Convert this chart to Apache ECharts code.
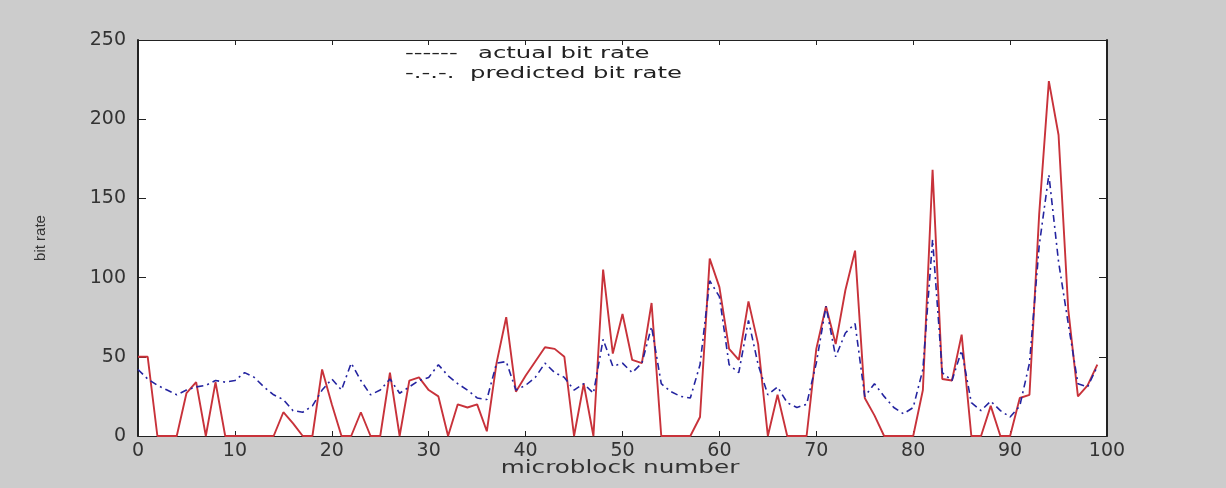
<!DOCTYPE html>
<html>
<head>
<meta charset="utf-8">
<script src="https://cdn.jsdelivr.net/npm/echarts@6/dist/echarts.min.js"></script>
<style>
  html, body { margin: 0; padding: 0; background: #cccccc; }
  #main { width: 1226px; height: 488px; }
</style>
</head>
<body>
<div id="main"></div>
<script>
// microblock index 0..99
var blocks = [];
for (var i = 0; i < 100; i++) blocks.push(i);

var actualRate = [
  50, 50, 0, 0, 0, 27, 34, 0, 34, 0,
  0, 0, 0, 0, 0, 15, 8, 0, 0, 42,
  20, 0, 0, 15, 0, 0, 40, 0, 35, 37,
  29, 25, 0, 20, 18, 20, 3, 46, 75, 28,
  38, 47, 56, 55, 50, 0, 33, 0, 105, 52,
  77, 48, 46, 84, 0, 0, 0, 0, 12, 112,
  94, 55, 48, 85, 58, 0, 26, 0, 0, 0,
  55, 82, 58, 92, 117, 24, 13, 0, 0, 0,
  0, 29, 168, 36, 35, 64, 0, 0, 19, 0,
  0, 24, 26, 140, 224, 190, 80, 25, 32, 45
];

var predictedRate = [
  42, 36, 32, 29, 26, 29, 31, 32, 35, 34,
  35, 40, 37, 31, 26, 23, 16, 15, 19, 29,
  36, 29, 46, 35, 26, 29, 36, 27, 31, 35,
  37, 45, 38, 33, 29, 24, 23, 46, 47, 29,
  32, 37, 46, 40, 37, 29, 33, 27, 61, 44,
  46, 40, 46, 69, 33, 28, 25, 24, 45, 98,
  88, 45, 40, 73, 45, 26, 31, 21, 18, 20,
  46, 82, 50, 65, 71, 25, 33, 25, 18, 14,
  18, 42, 124, 40, 35, 54, 21, 16, 22, 16,
  12, 19, 46, 120, 165, 110, 71, 33, 31, 44
];

var legendLines = ['actual bit rate', 'predicted bit rate'];
var legendMarks = ['------', '-.-.-.'];

function pairs(ys) {
  return blocks.map(function (x, k) { return [x, ys[k]]; });
}

var chart = echarts.init(document.getElementById('main'));

var axisColor = '#222';
var labelStyle = { color: '#333', fontFamily: 'DejaVu Sans', fontSize: 19 };

var option = {
  backgroundColor: '#cccccc',
  animation: false,
  grid: {
    left: 138, right: 119, top: 40, bottom: 52,
    show: true, backgroundColor: '#ffffff', borderWidth: 0
  },
  xAxis: [
    {
      type: 'value', min: 0, max: 100, interval: 10,
      axisLine: { onZero: false, lineStyle: { color: axisColor, width: 1.2 } },
      axisTick: { inside: true, length: 5, lineStyle: { color: axisColor } },
      axisLabel: Object.assign({ margin: 6 }, labelStyle),
      splitLine: { show: false }
    },
    {
      type: 'value', min: 0, max: 100, interval: 10, position: 'top',
      axisLine: { onZero: false, lineStyle: { color: axisColor, width: 1.2 } },
      axisTick: { inside: true, length: 5, lineStyle: { color: axisColor } },
      axisLabel: { show: false },
      splitLine: { show: false }
    }
  ],
  yAxis: [
    {
      type: 'value', min: 0, max: 250, interval: 50,
      name: 'bit rate', nameLocation: 'middle', nameGap: 90, nameRotate: 90,
      nameTextStyle: { color: '#333', fontFamily: 'Liberation Sans Narrow, Liberation Sans', fontSize: 15 },
      axisLine: { show: true, onZero: false, lineStyle: { color: axisColor, width: 2 } },
      axisTick: { show: true, inside: true, length: 8, lineStyle: { color: axisColor } },
      axisLabel: Object.assign({ margin: 12 }, labelStyle),
      splitLine: { show: false }
    },
    {
      type: 'value', min: 0, max: 250, interval: 50, position: 'right',
      axisLine: { show: true, onZero: false, lineStyle: { color: axisColor, width: 2 } },
      axisTick: { show: true, inside: true, length: 8, lineStyle: { color: axisColor } },
      axisLabel: { show: false },
      splitLine: { show: false }
    }
  ],
  graphic: [
    {
      type: 'text', x: 620, y: 469, scaleX: 1.45,
      style: {
        text: 'microblock number', fill: '#333',
        font: '17px "DejaVu Sans"', textAlign: 'center', textVerticalAlign: 'middle'
      }
    },
    {
      type: 'text', x: 405, y: 54, scaleX: 1.52,
      style: { text: legendMarks[0], fill: '#222', font: '16px "DejaVu Sans"', textVerticalAlign: 'middle' }
    },
    {
      type: 'text', x: 478, y: 54, scaleX: 1.52,
      style: { text: legendLines[0], fill: '#222', font: '16px "DejaVu Sans"', textVerticalAlign: 'middle' }
    },
    {
      type: 'text', x: 405, y: 74, scaleX: 1.52,
      style: { text: legendMarks[1], fill: '#222', font: '16px "DejaVu Sans"', textVerticalAlign: 'middle' }
    },
    {
      type: 'text', x: 470, y: 74, scaleX: 1.52,
      style: { text: legendLines[1], fill: '#222', font: '16px "DejaVu Sans"', textVerticalAlign: 'middle' }
    }
  ],
  series: [
    {
      name: 'actual bit rate', type: 'line', data: pairs(actualRate),
      showSymbol: false, symbol: 'none',
      lineStyle: { color: '#c8323a', width: 1.9 }
    },
    {
      name: 'predicted bit rate', type: 'line', data: pairs(predictedRate),
      showSymbol: false, symbol: 'none',
      lineStyle: { color: '#2424a0', width: 1.6, type: [7, 4, 2, 4] }
    }
  ]
};

chart.setOption(option);
</script>
</body>
</html>
